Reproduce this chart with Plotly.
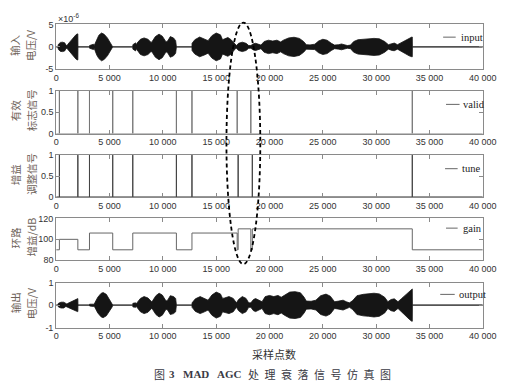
import plotly.graph_objects as go

W, H = 520, 390

# ---------------- data ----------------
x_ticks = [0, 5000, 10000, 15000, 20000, 25000, 30000, 35000, 40000]
x_tick_text = ["0", "5 000", "10 000", "15 000", "20 000", "25 000", "30 000", "35 000", "40 000"]
x_tick_text_out = ["0", "5 000", "10 000", "15 000", "20 000", "20 000", "30 000", "35 000", "40 000"]

# input envelope (x10^-6 V)
input_env_x = [0, 150, 210, 400, 600, 800, 910, 1000, 1060, 1300, 1600, 1850, 1980, 2030, 2040,
               3120, 3130, 3500, 3560, 3640, 3800, 4000, 4250, 4500, 4800, 5050, 5200, 5300,
               7180, 7190, 7450, 7500, 7600, 7900, 8240, 8600, 8900, 9000, 9300, 9640, 9950,
               10300, 10450, 10700, 11000, 11200, 11270,
               12730, 12740, 13000, 13450, 13900, 14240, 14600, 15000, 15400, 15600, 15800,
               16100, 16400, 16800, 16900, 17100, 17450, 17800, 18050, 18250, 18500, 18700,
               19000, 19200, 19500, 19900, 20300, 20700, 21050, 21300, 21800, 22300, 22800,
               23200, 23450, 23800, 24250, 24600, 25000, 25400, 25800, 26100, 26500, 26750,
               27000, 27300, 27600, 27900, 28300, 28800, 29300, 29800, 30300, 30800, 31150,
               31500, 31700, 32000, 32300, 32700, 33100, 33350, 33390, 33400, 40000]
input_env_amp = [0, 0, 0.6, 1.0, 1.05, 0.9, 0.4, 0.3, 0.5, 1.2, 2.0, 2.7, 2.9, 2.9, 0,
                 0, 0.3, 0.6, 0.3, 0.8, 1.8, 2.6, 3.1, 2.8, 2.0, 1.0, 0.4, 0,
                 0, 0.5, 0.9, 0.4, 0.9, 1.7, 2.0, 1.7, 1.0, 1.2, 2.3, 2.85, 2.4,
                 1.1, 1.3, 2.3, 2.0, 1.4, 0,
                 0, 0.8, 1.6, 2.2, 1.8, 1.4, 2.5, 3.1, 2.7, 1.6, 1.8,
                 2.1, 1.6, 0.4, 0.3, 0.8, 1.05, 0.8, 0.3, 0.3, 0.7, 0.8,
                 0.6, 0.4, 1.2, 1.5, 1.3, 1.5, 1.1, 1.5, 2.0, 2.15, 1.9,
                 1.2, 0.5, 0.45, 0.6, 1.3, 1.7, 1.5, 0.8, 0.4, 0.5, 0.65,
                 0.5, 0.3, 0.4, 1.2, 1.6, 1.7, 1.8, 1.9, 1.8, 1.2, 0.5,
                 0.8, 0.85, 0.5, 0.9, 1.5, 2.0, 2.2, 2.2, 0, 0]

# output envelope (V)
output_env_x = [0, 150, 210, 450, 700, 910, 1000, 1060, 1400, 1750, 2000, 2030, 2040,
                3120, 3130, 3500, 3560, 3640, 3900, 4200, 4400, 4700, 5000, 5250, 5300,
                7180, 7190, 7450, 7500, 7600, 7900, 8240, 8600, 8950, 9050, 9350, 9650, 9950,
                10300, 10450, 10700, 11000, 11200, 11270,
                12730, 12740, 13050, 13500, 13900, 14240, 14600, 15000, 15400, 15600, 15800,
                16200, 16600, 16900, 17100, 17450, 17800, 18050, 18250, 18500, 18700, 19000,
                19300, 19600, 20000, 20400, 20800, 21100, 21400, 21900, 22400, 22900, 23250,
                23450, 23900, 24350, 24800, 25300, 25700, 26100, 26500, 26900, 27200, 27500,
                27800, 28200, 28800, 29300, 29800, 30300, 30800, 31100, 31400, 31700, 32050,
                32400, 32800, 33150, 33350, 33390, 33400, 40000]
output_env_amp = [0, 0, 0.08, 0.13, 0.13, 0.06, 0.05, 0.07, 0.15, 0.24, 0.29, 0.29, 0,
                  0, 0.04, 0.06, 0.04, 0.12, 0.35, 0.52, 0.56, 0.48, 0.25, 0.08, 0,
                  0, 0.08, 0.1, 0.05, 0.12, 0.3, 0.38, 0.32, 0.15, 0.2, 0.42, 0.53, 0.45,
                  0.18, 0.22, 0.42, 0.38, 0.3, 0,
                  0, 0.1, 0.28, 0.38, 0.3, 0.22, 0.45, 0.58, 0.5, 0.3, 0.32,
                  0.38, 0.3, 0.1, 0.25, 0.38, 0.3, 0.1, 0.1, 0.25, 0.29, 0.22,
                  0.15, 0.38, 0.43, 0.38, 0.43, 0.35, 0.45, 0.58, 0.6, 0.55, 0.35,
                  0.18, 0.17, 0.22, 0.42, 0.49, 0.4, 0.15, 0.18, 0.22, 0.15, 0.1,
                  0.2, 0.42, 0.48, 0.5, 0.53, 0.5, 0.35, 0.15, 0.25, 0.28, 0.15,
                  0.3, 0.48, 0.65, 0.72, 0.72, 0, 0]

valid_x = [300, 2030, 3120, 5300, 7180, 11270, 12730, 16970, 18250, 33390]
tune_x = [300, 2030, 3120, 5300, 7180, 11270, 12730, 17060, 18390, 33390]

gain_x = [0, 300, 2030, 3120, 5300, 7180, 11270, 12730, 16970, 17060, 18250, 18390, 33390, 40000]
gain_db = [90, 100, 90, 106, 90, 106, 90, 106, 90, 110, 90, 110, 90, 90]

labels_outer = ["输入", "有效", "增益", "环路", "输出"]
labels_inner = ["电压/V", "标志信号", "调整信号", "增益/dB", "电压/V"]
legend_names = ["input", "valid", "tune", "gain", "output"]

# ---------------- layout geometry (pixels) ----------------
panel_px = [(20, 66), (88, 132), (154, 197), (219, 262), (285, 331)]
XL, XR = 55, 496


def py(p):
    return 1 - p / H


def px(p):
    return p / W


def envelope(xs, amps):
    return xs + xs[::-1], amps + [-a for a in amps[::-1]]


def pulses(xs):
    X, Y = [0], [0]
    for p in xs:
        X += [p, p, p]
        Y += [0, 1, 0]
    X.append(40000)
    Y.append(0)
    return X, Y


tick_font = dict(family="Liberation Sans Narrow, Arial Narrow, Liberation Sans, Arial", size=9, color="#333")
axcol = "#8a8a8a"

fig = go.Figure()

ix, iy = envelope(input_env_x, input_env_amp)
fig.add_trace(go.Scatter(x=ix, y=iy, fill="toself", fillcolor="#151515", mode="lines",
                         line=dict(color="#151515", width=0.8), xaxis="x", yaxis="y", name="input"))
vx, vy = pulses(valid_x)
fig.add_trace(go.Scatter(x=vx, y=vy, mode="lines", line=dict(color="#777", width=1),
                         xaxis="x2", yaxis="y2", name="valid"))
tx, ty = pulses(tune_x)
fig.add_trace(go.Scatter(x=tx, y=ty, mode="lines", line=dict(color="#444", width=1),
                         xaxis="x3", yaxis="y3", name="tune"))
fig.add_trace(go.Scatter(x=gain_x, y=gain_db, mode="lines", line=dict(color="#666", width=1, shape="hv"),
                         xaxis="x4", yaxis="y4", name="gain"))
ox, oy = envelope(output_env_x, output_env_amp)
fig.add_trace(go.Scatter(x=ox, y=oy, fill="toself", fillcolor="#151515", mode="lines",
                         line=dict(color="#151515", width=0.8), xaxis="x5", yaxis="y5", name="output"))

y_ranges = [[-5, 5], [0, 1], [0, 1], [80, 120], [-1, 1]]
y_tickvals = [[-5, 0, 5], [0, 0.5, 1], [0, 0.5, 1], [80, 100, 120], [-1, 0, 1]]
y_ticktext = [["-5", "0", "5"], ["0", "0.5", "1"], ["0", "0.5", "1"], ["80", "100", "120"], ["-1", "0", "1"]]

layout = dict(width=W, height=H, margin=dict(l=0, r=0, t=0, b=0), showlegend=False,
              paper_bgcolor="white", plot_bgcolor="white")
for i in range(5):
    s = "" if i == 0 else str(i + 1)
    top, bot = panel_px[i]
    layout["xaxis" + s] = dict(domain=[px(XL), px(XR)], range=[0, 40000], anchor="y" + s,
                               tickvals=x_ticks, ticktext=(x_tick_text_out if i == 4 else x_tick_text),
                               ticks="inside", ticklen=4, tickcolor=axcol, showline=True, linecolor=axcol,
                               linewidth=1, mirror="ticks", showgrid=False, zeroline=False, tickfont=tick_font)
    layout["yaxis" + s] = dict(domain=[py(bot), py(top)], range=y_ranges[i], anchor="x" + s,
                               tickvals=y_tickvals[i], ticktext=y_ticktext[i],
                               ticks="inside", ticklen=4, tickcolor=axcol, showline=True, linecolor=axcol,
                               linewidth=1, mirror="ticks", showgrid=False, zeroline=False, tickfont=tick_font)
fig.update_layout(**layout)

ann = []
shapes = []
lab_font = dict(family="Noto Sans CJK SC", size=10.5, color="#6e6258")
for i in range(5):
    top, bot = panel_px[i]
    cy = py((top + bot) / 2 - 2)
    ann.append(dict(x=px(12.5), y=cy, xref="paper", yref="paper", text=labels_outer[i], textangle=-90,
                    showarrow=False, font=lab_font, xanchor="center", yanchor="middle"))
    ann.append(dict(x=px(29), y=cy, xref="paper", yref="paper", text=labels_inner[i], textangle=-90,
                    showarrow=False, font=lab_font, xanchor="center", yanchor="middle"))

# legend-like labels
leg_y = [33, 102, 168, 229, 297]
leg_line = [(455, 468), (458, 472), (457, 470), (458, 470), (452, 467)]
leg_text_x = [471, 473, 472, 473, 469]
for i in range(5):
    ann.append(dict(x=px(leg_text_x[i]), y=py(leg_y[i]), xref="paper", yref="paper", text=legend_names[i],
                    showarrow=False, xanchor="left", yanchor="middle",
                    font=dict(family="Liberation Serif, Times New Roman", size=10.5, color="#222")))
    shapes.append(dict(type="line", xref="paper", yref="paper", x0=px(leg_line[i][0]), x1=px(leg_line[i][1]),
                       y0=py(leg_y[i]), y1=py(leg_y[i]), line=dict(color="#666", width=1)))

ann.append(dict(x=px(55), y=py(13), xref="paper", yref="paper", text="×10<sup>-6</sup>", showarrow=False,
                xanchor="left", yanchor="middle", font=dict(tick_font, size=9)))

ann.append(dict(x=px(280), y=py(358), xref="paper", yref="paper", text="采样点数", showarrow=False,
                xanchor="center", yanchor="middle", font=dict(family="Noto Sans CJK SC", size=11, color="#333")))

cap_cjk = dict(family="Noto Sans CJK SC", size=11, color="#3a3a44")
cap_lat = dict(family="Liberation Serif, Times New Roman", size=11, color="#3a3a44")
ann.append(dict(x=px(162), y=py(379), xref="paper", yref="paper", text="图", showarrow=False,
                xanchor="center", yanchor="middle", font=cap_cjk))
ann.append(dict(x=px(175), y=py(379), xref="paper", yref="paper", text="<b>3</b>", showarrow=False,
                xanchor="center", yanchor="middle", font=cap_lat))
ann.append(dict(x=px(200), y=py(379), xref="paper", yref="paper", text="<b>MAD</b>", showarrow=False,
                xanchor="center", yanchor="middle", font=cap_lat))
ann.append(dict(x=px(234.5), y=py(379), xref="paper", yref="paper", text="<b>AGC</b>", showarrow=False,
                xanchor="center", yanchor="middle", font=cap_lat))
ann.append(dict(x=px(327), y=py(379), xref="paper", yref="paper",
                text="\u2002".join("处理衰落信号仿真图"), showarrow=False,
                xanchor="center", yanchor="middle", font=cap_cjk))

# dashed ellipse highlight
shapes.append(dict(type="circle", xref="paper", yref="paper", x0=px(231), x1=px(266), y0=py(266), y1=py(18),
                   line=dict(color="black", width=1.8, dash="4px,3px"), layer="above"))

fig.update_layout(annotations=ann, shapes=shapes)
fig.write_html("out.html")
